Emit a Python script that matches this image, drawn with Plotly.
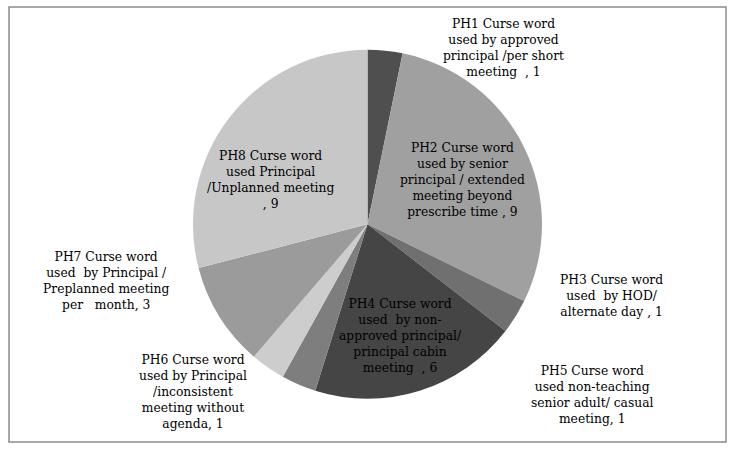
import plotly.graph_objects as go

categories = [
    "PH1 Curse word<br>used by approved<br>principal /per short<br>meeting  ",
    "PH2 Curse word<br>used by senior<br>principal / extended<br>meeting beyond<br>prescribe time ",
    "PH3 Curse word<br>used  by HOD/<br>alternate day ",
    "PH4 Curse word<br>used  by non-<br>approved principal/<br>principal cabin<br>meeting  ",
    "PH5 Curse word<br>used non-teaching<br>senior adult/ casual<br>meeting",
    "PH6 Curse word<br>used by Principal<br>/inconsistent<br>meeting without<br>agenda",
    "PH7 Curse word<br>used  by Principal /<br>Preplanned meeting<br>per   month",
    "PH8 Curse word<br>used Principal<br>/Unplanned meeting<br>",
]
values = [1, 9, 1, 6, 1, 1, 3, 9]
colors = ["#4f4f4f", "#a0a0a0", "#707070", "#454545", "#7e7e7e", "#cdcdcd", "#9b9b9b", "#c7c7c7"]

# label centres in pixel coordinates (layout only)
label_px = [(503, 48), (462, 180), (611, 296), (400, 336), (592, 395), (193, 392), (106, 281), (270, 180)]

W, H = 737, 454
fig = go.Figure()
fig.add_trace(go.Pie(
    labels=[c.split("<br>")[0] for c in categories],
    values=values,
    sort=False,
    direction="clockwise",
    rotation=0,
    marker=dict(colors=colors, line=dict(width=0)),
    textinfo="none",
    hoverinfo="label+value",
    showlegend=False,
    domain=dict(x=[193 / W, 542 / W], y=[1 - 399 / H, 1 - 49.5 / H]),
))

for cat, v, (px, py) in zip(categories, values, label_px):
    fig.add_annotation(
        x=px / W, y=1 - py / H, xref="paper", yref="paper",
        text=f"{cat}, {v}", showarrow=False,
        xanchor="center", yanchor="middle", align="center",
        font=dict(family="DejaVu Serif", size=12.3, color="#000000"),
    )

fig.add_shape(type="rect", xref="paper", yref="paper",
              x0=9 / W, x1=726 / W, y0=1 - 442 / H, y1=1 - 7 / H,
              line=dict(color="#8c8c8c", width=1.5))

fig.update_layout(
    width=W, height=H,
    margin=dict(l=0, r=0, t=0, b=0),
    paper_bgcolor="white", plot_bgcolor="white",
)
fig.write_html("out.html", config={"displayModeBar": False},
               post_script="document.body.style.margin='0';document.body.style.overflow='hidden';")
